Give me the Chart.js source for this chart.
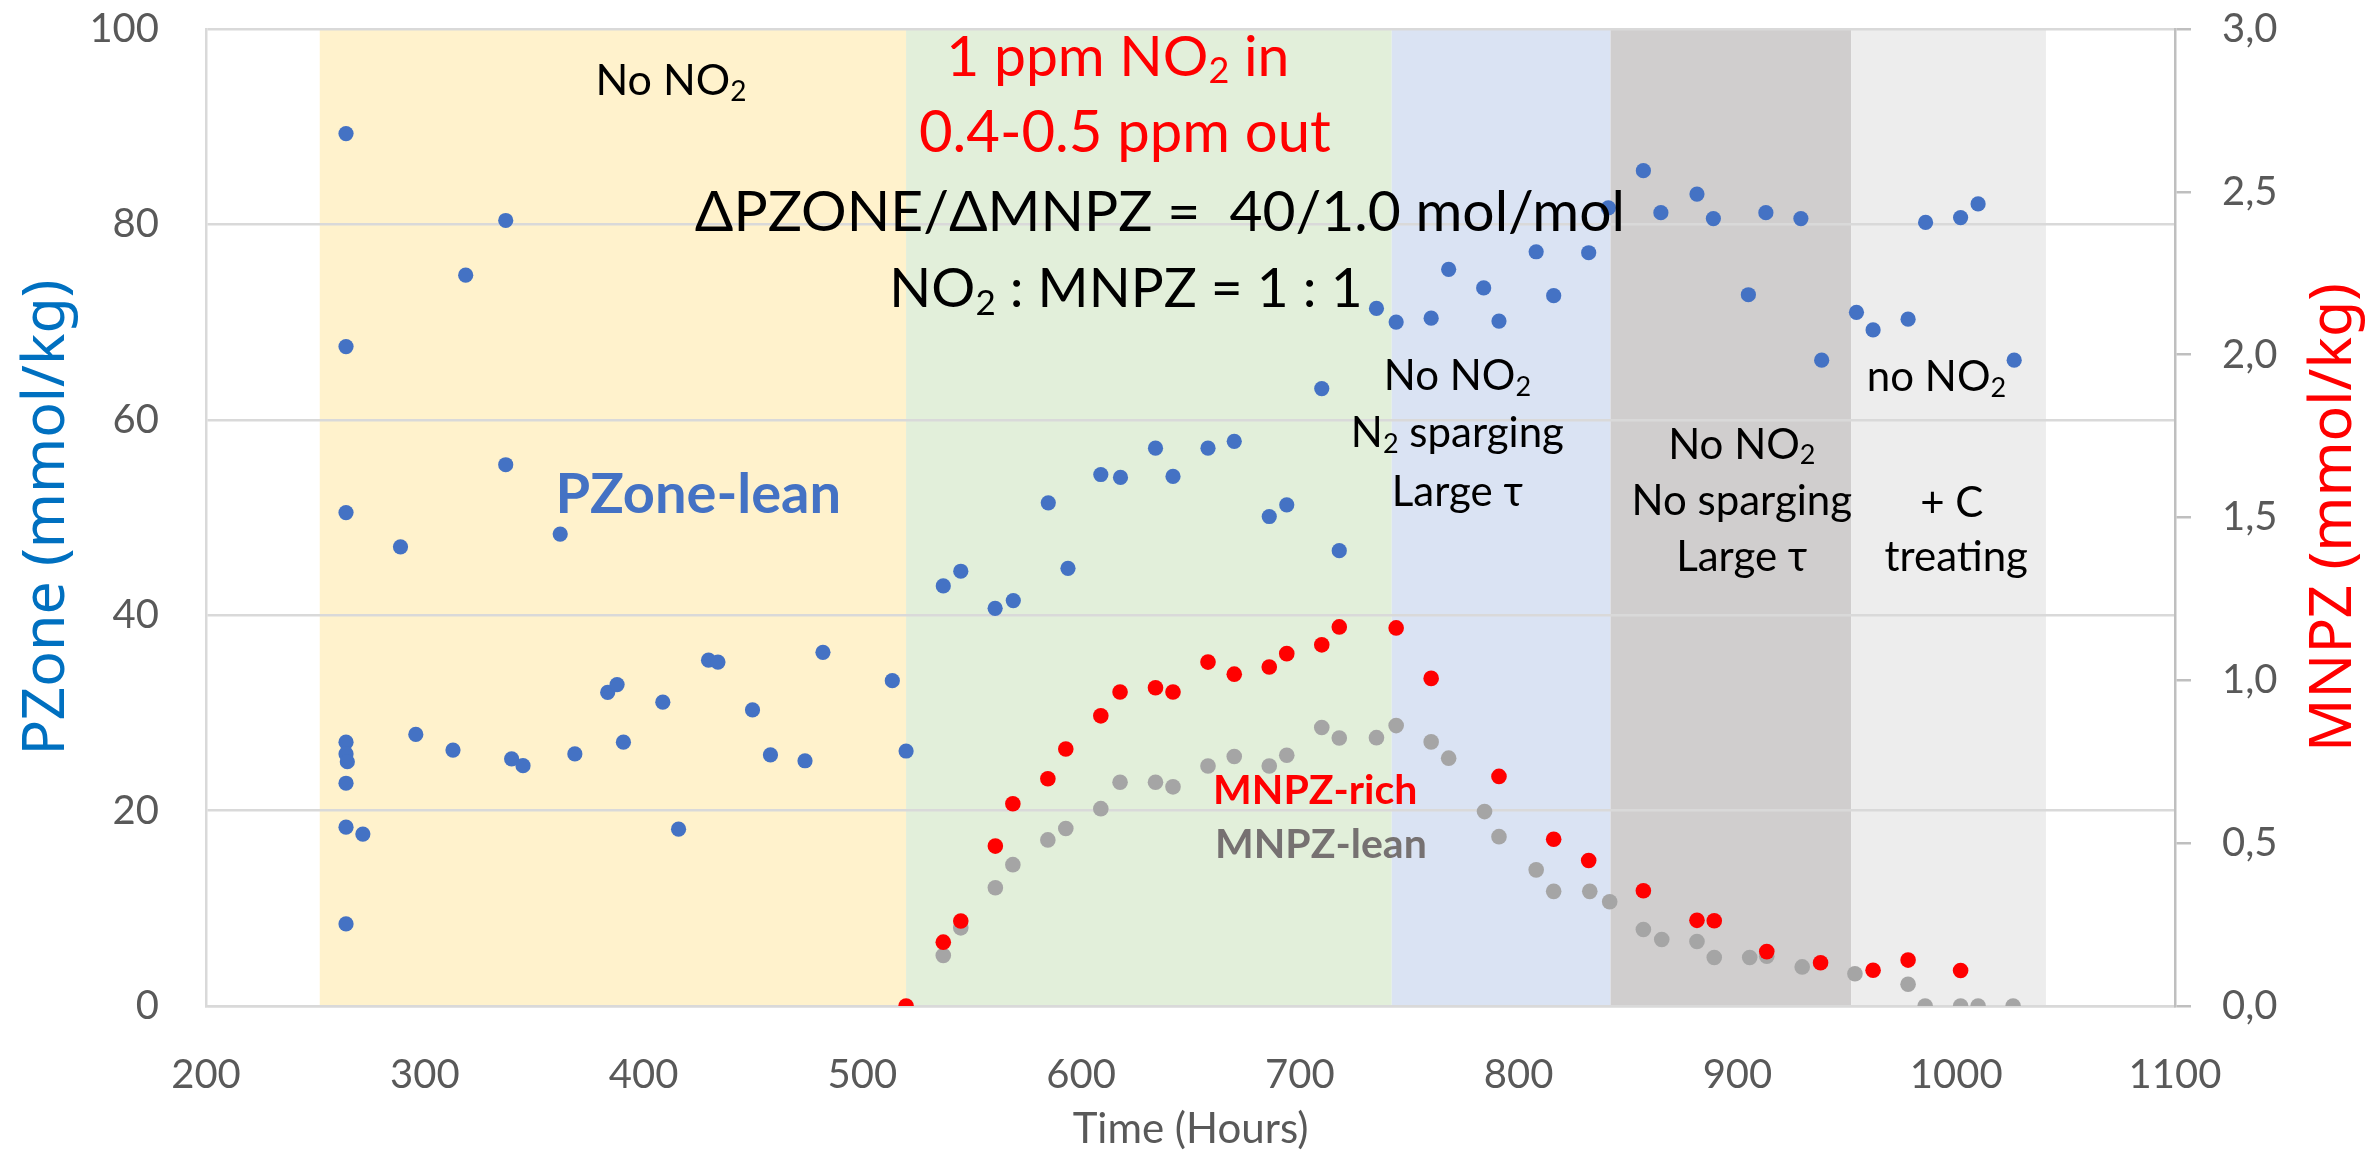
<!DOCTYPE html>
<html>
<head>
<meta charset="utf-8">
<title>PZone and MNPZ vs time</title>
<script src="https://cdn.jsdelivr.net/npm/chart.js@4.4.1/dist/chart.umd.min.js"></script>
<style>
  html, body { margin: 0; padding: 0; background: #fff; }
  canvas { display: block; }
</style>
</head>
<body>
<canvas id="chart" width="2371" height="1155"></canvas>
<script>
// PZone (left axis, mmol/kg)
const pzoneTime = [264, 264, 264, 264, 264, 264.6, 264, 264, 264, 271.7, 288.9, 295.9, 312.9, 318.7, 337, 337,
    339.7, 344.9, 361.9, 368.6, 383.6, 387.9, 390.8, 408.8, 416, 429.7, 434, 449.8, 458, 473.8, 482, 513.7, 520,
    537, 545, 560.7, 569, 585, 594, 609, 618, 634, 642, 658, 670, 686, 694, 710, 718, 735, 744, 760, 768, 784,
    791, 808, 816, 832, 841, 857, 865, 881.5, 889, 905, 913, 929, 938.5, 954.4, 962, 978, 986, 1002, 1010, 1026.5];
const pzoneValue = [89.3, 67.5, 50.5, 27.0, 25.8, 25.0, 22.8, 18.3, 8.4, 17.6, 47.0, 27.8, 26.2, 74.8, 80.4, 55.4,
    25.3, 24.6, 48.3, 25.8, 32.1, 32.9, 27.0, 31.1, 18.1, 35.4, 35.2, 30.3, 25.7, 25.1, 36.2, 33.3, 26.1,
    43.0, 44.5, 40.7, 41.5, 51.5, 44.8, 54.4, 54.1, 57.1, 54.2, 57.1, 57.8, 50.1, 51.3, 63.2, 46.6, 71.4, 70.0, 70.4, 75.4, 73.5,
    70.1, 77.2, 72.7, 77.1, 81.7, 85.5, 81.2, 83.1, 80.6, 72.8, 81.2, 80.6, 66.1, 71.0, 69.2, 70.3, 80.2, 80.7, 82.1, 66.1];

// MNPZ (right axis, mmol/kg)
const richTime = [520, 537, 545, 560.8, 568.8, 584.8, 593, 609, 617.8, 634, 642, 658, 670, 686, 694, 710, 718, 744,
    760, 791, 816, 832, 857, 881.5, 889.4, 913.4, 938, 962, 978, 1002];
const richValue = [0.0, 0.196, 0.261, 0.491, 0.621, 0.698, 0.789, 0.891, 0.964, 0.977, 0.964, 1.056, 1.019, 1.041,
    1.082, 1.109, 1.164, 1.161, 1.006, 0.705, 0.512, 0.447, 0.354, 0.263, 0.262, 0.167, 0.133, 0.11, 0.141, 0.109];
const leanTime = [537, 545, 560.8, 568.8, 584.8, 593, 609, 617.8, 634, 642, 658, 670, 686, 694, 710, 718, 735, 744,
    760, 768, 784.4, 791, 808, 816, 832.5, 841.6, 857, 865.4, 881.5, 889.4, 905.6, 913.4, 929.6, 953.7, 978,
    985.8, 1002, 1010, 1026];
const leanValue = [0.155, 0.24, 0.363, 0.434, 0.51, 0.545, 0.606, 0.687, 0.687, 0.673, 0.737, 0.766, 0.737, 0.77,
    0.855, 0.823, 0.824, 0.861, 0.811, 0.761, 0.597, 0.52, 0.418, 0.352, 0.352, 0.32, 0.235, 0.204, 0.198, 0.149,
    0.149, 0.153, 0.12, 0.099, 0.067, 0, 0, 0, 0];

// experiment phases (hours)
const phaseStart = [252, 520, 742, 842, 952];
const phaseEnd = [520, 742, 842, 952, 1041];
const phaseColors = ['#FFF2CC', '#E2EFDA', '#DAE3F3', '#D0CECE', '#EDEDED'];

// text boxes: x in hours, y (baseline) in PZone units; "_" marks a subscript run
const notes = [
    { x: 412.5, y: 93.2, size: 43, color: '#000000', runs: ['No NO', '_2'] },
    { x: 616.8, y: 95.2, size: 57, color: '#FF0000', runs: ['1 ppm NO', '_2', ' in'] },
    { x: 620, y: 87.4, size: 58, color: '#FF0000', runs: ['0.4-0.5 ppm out'] },
    { x: 636, y: 79.3, size: 57, color: '#000000', runs: ['\u0394PZONE/\u0394MNPZ =  40/1.0 mol/mol'] },
    { x: 620.5, y: 71.5, size: 55, color: '#000000', runs: ['NO', '_2', ' : MNPZ = 1 : 1'] },
    { x: 772, y: 63.0, size: 42, color: '#000000', runs: ['No NO', '_2'] },
    { x: 772, y: 57.2, size: 42, color: '#000000', runs: ['N', '_2', ' sparging'] },
    { x: 772, y: 51.2, size: 42, color: '#000000', runs: ['Large \u03c4'] },
    { x: 902, y: 56.0, size: 42, color: '#000000', runs: ['No NO', '_2'] },
    { x: 902, y: 50.3, size: 42, color: '#000000', runs: ['No sparging'] },
    { x: 902, y: 44.5, size: 42, color: '#000000', runs: ['Large \u03c4'] },
    { x: 991, y: 62.9, size: 42, color: '#000000', runs: ['no NO', '_2'] },
    { x: 998, y: 50.1, size: 42, color: '#000000', runs: ['+ C'] },
    { x: 1000, y: 44.5, size: 42, color: '#000000', runs: ['treating'] },
    { x: 425, y: 50.5, size: 56, bold: true, color: '#4472C4', runs: ['PZone-lean'] },
    { x: 707, y: 20.7, size: 41, bold: true, color: '#FF0000', runs: ['MNPZ-rich'] },
    { x: 709.6, y: 15.1, size: 41, bold: true, color: '#767171', runs: ['MNPZ-lean'] }
];

const toPoints = (xs, ys) => xs.map((t, i) => ({ x: t, y: ys[i] }));

function drawRuns(ctx, note, cx, baseline) {
    const weight = note.bold ? 'bold' : 'normal';
    const main = `${weight} ${note.size}px Lato`;
    const sub = `${weight} ${Math.round(note.size * 0.64)}px Lato`;
    let w = 0;
    note.runs.forEach(r => {
        ctx.font = r[0] === '_' ? sub : main;
        w += ctx.measureText(r[0] === '_' ? r.slice(1) : r).width;
    });
    let x = cx - w / 2;
    note.runs.forEach(r => {
        const isSub = r[0] === '_';
        const t = isSub ? r.slice(1) : r;
        ctx.font = isSub ? sub : main;
        ctx.fillText(t, x, baseline + (isSub ? note.size * 0.13 : 0));
        x += ctx.measureText(t).width;
    });
}

const phaseBands = {
    id: 'phaseBands',
    beforeDraw(chart) {
        const { ctx, chartArea: a, scales: { x } } = chart;
        ctx.save();
        phaseStart.forEach((s, i) => {
            const x1 = x.getPixelForValue(s);
            const x2 = x.getPixelForValue(phaseEnd[i]);
            ctx.fillStyle = phaseColors[i];
            ctx.fillRect(x1, a.top, x2 - x1, a.bottom - a.top);
        });
        ctx.restore();
    }
};

const textBoxes = {
    id: 'textBoxes',
    afterDatasetsDraw(chart) {
        const { ctx, scales: { x, y } } = chart;
        ctx.save();
        ctx.textAlign = 'left';
        ctx.textBaseline = 'alphabetic';
        notes.forEach(n => {
            ctx.fillStyle = n.color;
            drawRuns(ctx, n, x.getPixelForValue(n.x), y.getPixelForValue(n.y));
        });
        ctx.restore();
    }
};

// both axis titles read bottom-to-top like the original
const axisTitles = {
    id: 'axisTitles',
    afterDraw(chart) {
        const { ctx, chartArea: a } = chart;
        const mid = (a.top + a.bottom) / 2;
        ctx.save();
        ctx.font = '59px "Noto Sans"';
        ctx.textAlign = 'center';
        ctx.textBaseline = 'alphabetic';
        [[64, '#0070C0', 'PZone (mmol/kg)'], [2351, '#FF0000', 'MNPZ (mmol/kg)']].forEach(([bx, col, txt]) => {
            ctx.save();
            ctx.translate(bx, mid);
            ctx.rotate(-Math.PI / 2);
            ctx.fillStyle = col;
            ctx.fillText(txt, 0, 0);
            ctx.restore();
        });
        ctx.restore();
    }
};

// fixed axis boxes so the plot area sits where it does in the original
const fixBox = (w, h) => s => {
    if (w) s.width = w;
    if (h) s.height = h;
    s.paddingTop = 0;
    s.paddingBottom = 0;
};

function draw() {
    Chart.defaults.font.family = 'Lato';
    Chart.defaults.color = '#595959';
    const ctx = document.getElementById('chart').getContext('2d');
    new Chart(ctx, {
        type: 'scatter',
        data: {
            datasets: [
                {
                    label: 'MNPZ-rich',
                    data: toPoints(richTime, richValue),
                    yAxisID: 'y2',
                    backgroundColor: '#FF0000',
                    borderWidth: 0,
                    pointRadius: 7.8
                },
                {
                    label: 'MNPZ-lean',
                    data: toPoints(leanTime, leanValue),
                    yAxisID: 'y2',
                    backgroundColor: '#A5A5A5',
                    borderWidth: 0,
                    pointRadius: 7.8
                },
                {
                    label: 'PZone-lean',
                    data: toPoints(pzoneTime, pzoneValue),
                    yAxisID: 'y',
                    backgroundColor: '#4472C4',
                    borderWidth: 0,
                    pointRadius: 7.6
                }
            ]
        },
        options: {
            responsive: false,
            animation: false,
            devicePixelRatio: 1,
            layout: { padding: { top: 29 } },
            plugins: {
                legend: { display: false },
                tooltip: { enabled: false }
            },
            scales: {
                x: {
                    type: 'linear',
                    min: 200,
                    max: 1100,
                    ticks: { stepSize: 100, padding: 37, font: { size: 40 }, color: '#595959', callback: v => String(v) },
                    grid: { display: false },
                    border: { display: true, color: '#D9D9D9', width: 2.5 },
                    title: { display: true, text: 'Time (Hours)', font: { size: 42 }, color: '#595959', padding: 0 },
                    afterFit: fixBox(0, 149)
                },
                y: {
                    position: 'left',
                    min: 0,
                    max: 100,
                    ticks: { stepSize: 20, padding: 47, font: { size: 40 }, color: '#595959' },
                    grid: { color: '#D9D9D9', lineWidth: 2.5, drawTicks: false },
                    border: { display: true, color: '#D9D9D9', width: 2.5 },
                    afterFit: fixBox(206, 0)
                },
                y2: {
                    position: 'right',
                    min: 0,
                    max: 3,
                    ticks: {
                        stepSize: 0.5,
                        padding: 31,
                        font: { size: 40 },
                        color: '#595959',
                        callback: v => v.toFixed(1).replace('.', ',')
                    },
                    grid: { drawOnChartArea: false, drawTicks: true, tickLength: 16, color: '#BFBFBF', lineWidth: 2.5 },
                    border: { display: true, color: '#BFBFBF', width: 2.5 },
                    afterFit: fixBox(196, 0)
                }
            }
        },
        plugins: [phaseBands, textBoxes, axisTitles]
    });
}

Promise.all([
    document.fonts.load('40px Lato'),
    document.fonts.load('bold 40px Lato'),
    document.fonts.load('59px "Noto Sans"')
]).then(draw, draw);
</script>
</body>
</html>
